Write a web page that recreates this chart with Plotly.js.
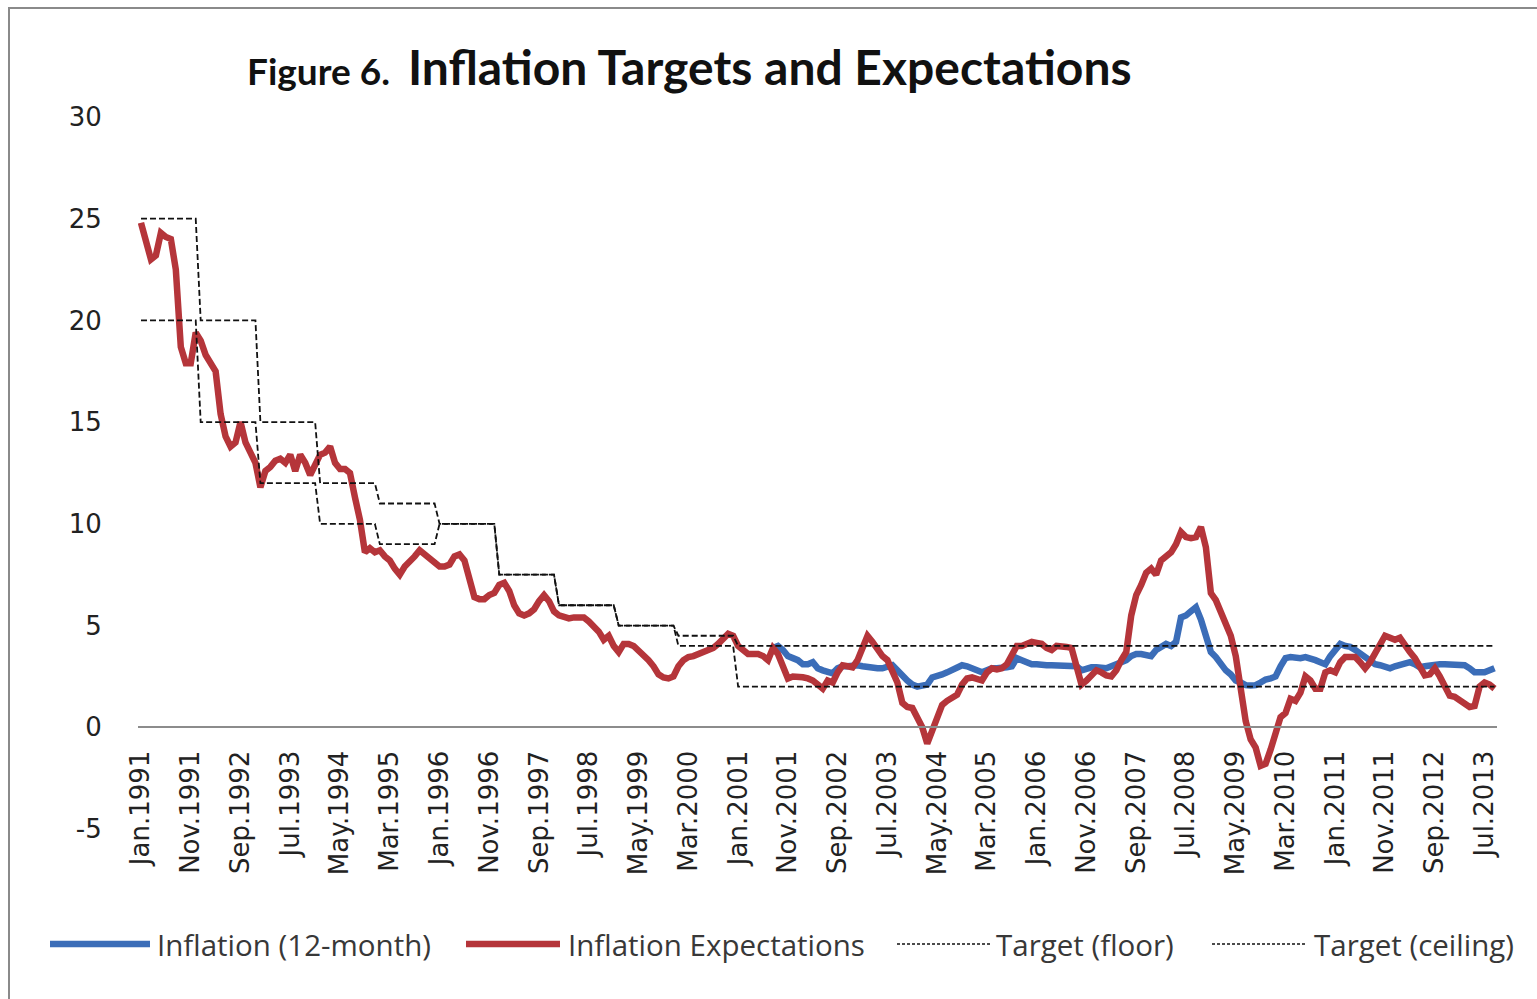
<!DOCTYPE html>
<html>
<head>
<meta charset="utf-8">
<script src="https://cdn.plot.ly/plotly-3.0.1.min.js"></script>
<style>
  html, body { margin: 0; padding: 0; background: #fff; overflow: hidden; }
  #chart { width: 1537px; height: 999px; }
  #frame { position: absolute; left: 8px; top: 7px; width: 1700px; height: 1200px;
           border-left: 2px solid #8a8a8a; border-top: 2px solid #8a8a8a; pointer-events: none; }
</style>
</head>
<body>
<div id="chart"></div>
<div id="frame"></div>
<script>

// Month categories, Jan.1991 .. Sep.2013
var monthNames = ["Jan", "Feb", "Mar", "Apr", "May", "Jun", "Jul", "Aug", "Sep", "Oct", "Nov", "Dec"];
var firstYear = 1991;
var lastYear = 2013;
var lastMonth = "Sep.2013";

var months = [];
for (let y = firstYear; y <= lastYear; y++) {
    for (let k = 0; k < 12; k++) {
        months.push(monthNames[k] + "." + y);
    }
}
months = months.slice(0, months.indexOf(lastMonth) + 1);

// Inflation expectations, monthly from Jan.1991
var expectations = [
    24.8, 24.0, 23.0, 23.2, 24.3, 24.1, 24.0, 22.5, 18.7, 17.9, 17.9, 19.4,
    19.0, 18.3, 17.9, 17.5, 15.4, 14.3, 13.8, 14.0, 15.0, 14.0, 13.5, 13.0,
    11.8, 12.6, 12.8, 13.1, 13.2, 13.0, 13.4, 12.6, 13.4, 13.0, 12.4, 13.0,
    13.4, 13.5, 13.8, 13.0, 12.7, 12.7, 12.5, 11.3, 10.2, 8.6, 8.8, 8.6,
    8.7, 8.4, 8.2, 7.8, 7.5, 7.9, 8.1, 8.4, 8.7, 8.5, 8.2, 8.0,
    7.9, 7.9, 8.0, 8.4, 8.5, 8.2, 7.4, 6.4, 6.3, 6.3, 6.5, 6.6,
    7.0, 7.1, 6.7, 6.0, 5.6, 5.5, 5.6, 5.8, 6.2, 6.5, 6.2, 5.7,
    5.5, 5.4, 5.35, 5.4, 5.4, 5.4, 5.2, 5.0, 4.7, 4.3, 4.5, 4.0,
    3.7, 4.1, 4.1, 4.0, 3.8, 3.6, 3.3, 3.0, 2.6, 2.45, 2.4, 2.5,
    3.0, 3.3, 3.45, 3.5, 3.6, 3.7, 3.8, 3.9, 4.1, 4.4, 4.6, 4.5,
    4.0, 3.8, 3.6, 3.6, 3.6, 3.5, 3.3, 3.9, 3.6, 3.0, 2.4, 2.5,
    2.5, 2.46, 2.4, 2.3, 2.1, 1.9, 2.3, 2.2, 2.7, 3.05, 3.0, 2.95,
    3.3, 3.9, 4.5, 4.2, 3.8, 3.5, 3.3, 2.8, 2.2, 1.2, 1.0, 0.95,
    0.5, 0.0, -0.8, -0.15, 0.6, 1.1, 1.3, 1.5, 1.6, 2.1, 2.4, 2.45,
    2.4, 2.3, 2.7, 2.9, 2.85, 2.9, 3.1, 3.5, 4.0, 4.0, 4.1, 4.2,
    4.15, 4.1, 3.9, 3.8, 4.0, 4.0, 3.95, 3.9, 2.9, 2.1, 2.3, 2.6,
    2.8, 2.7, 2.55, 2.5, 2.8, 3.3, 3.7, 5.5, 6.5, 7.0, 7.6, 7.8,
    7.5, 8.2, 8.4, 8.6, 9.0, 9.6, 9.35, 9.3, 9.35, 9.85, 8.85, 6.6,
    6.25, 5.6, 5.0, 4.5, 3.5, 1.6, 0.3, -0.6, -1.0, -1.9, -1.8, -1.1,
    -0.3, 0.5, 0.7, 1.4, 1.3, 1.7, 2.5, 2.3, 1.9, 1.9, 2.7, 2.8,
    2.7, 3.2, 3.45, 3.45, 3.45, 3.2, 2.9, 3.2, 3.6, 4.0, 4.5, 4.4,
    4.3, 4.4, 4.0, 3.7, 3.4, 3.0, 2.55, 2.6, 2.9, 2.5, 2.0, 1.55,
    1.5, 1.3, 1.2, 1.0, 1.05, 2.0, 2.2, 2.1, 1.9
];

// Inflation (12-month), visible from Aug.2001
var inflationStart = "Aug.2001";
var inflation = [
    3.9, 4.0, 3.8, 3.5, 3.4,
    3.3, 3.1, 3.1, 3.2, 2.9, 2.8, 2.7, 2.65, 2.9, 3.0, 3.0, 3.05,
    3.05, 3.0, 2.95, 2.95, 2.9, 2.9, 3.0, 3.05, 2.8, 2.5, 2.3, 2.1,
    2.0, 2.05, 2.1, 2.45, 2.5, 2.6, 2.7, 2.8, 2.9, 3.05, 3.0, 2.9,
    2.8, 2.7, 2.8, 2.9, 2.9, 2.9, 2.95, 3.0, 3.4, 3.3, 3.2, 3.1,
    3.1, 3.05, 3.05, 3.05, 3.05, 3.05, 3.05, 3.05, 3.0, 2.8, 2.9, 2.95,
    2.95, 2.9, 2.9, 3.0, 3.1, 3.2, 3.3, 3.5, 3.6, 3.6, 3.55, 3.5,
    3.8, 4.0, 4.1, 4.0, 4.2, 5.4, 5.5, 5.7, 5.9, 5.3, 4.6, 3.7,
    3.45, 3.1, 2.8, 2.6, 2.3, 2.2, 2.07, 2.05, 2.07, 2.2, 2.35, 2.4,
    2.5, 3.0, 3.4, 3.45, 3.4, 3.4, 3.45, 3.4, 3.3, 3.2, 3.1, 3.5,
    3.8, 4.1, 4.0, 3.95, 3.8, 3.6, 3.4, 3.2, 3.1, 3.05, 3.0, 2.9,
    3.0, 3.05, 3.1, 3.2, 3.1, 2.95, 3.0, 3.05, 3.1, 3.1, 3.1, 3.1,
    3.1, 3.1, 3.05, 2.9, 2.7, 2.7, 2.7, 2.8, 2.9
];

// Yearly target band
var targetYears = [1991, 1992, 1993, 1994, 1995, 1996, 1997, 1998, 1999, 2000, 2001, 2002,
                   2003, 2004, 2005, 2006, 2007, 2008, 2009, 2010, 2011, 2012, 2013];
var targetFloor = [20, 15, 12, 10, 9, 10, 7.5, 6, 5, 4, 2, 2,
                   2, 2, 2, 2, 2, 2, 2, 2, 2, 2, 2];
var targetCeiling = [25, 20, 15, 12, 11, 10, 7.5, 6, 5, 4.5, 4, 4,
                     4, 4, 4, 4, 4, 4, 4, 4, 4, 4, 4];

// tick labels every 10 months, y labels with a plain hyphen
var tickLabels = months.filter(function (m, i) { return i % 10 === 0; });
var yTicks = [-5, 0, 5, 10, 15, 20, 25, 30];


// each month takes the target of its year
function monthlyTarget(yearly) {
    return months.map(function (m) {
        var yr = parseInt(m.split(".")[1]);
        return yearly[targetYears.indexOf(yr)];
    });
}

var blue = "#3b6db8";
var red = "#b5353a";
var dash = "6px,3px";

var traces = [
    { x: months.slice(months.indexOf(inflationStart)), y: inflation, name: "Inflation (12-month)",
      type: "scatter", mode: "lines", line: { color: blue, width: 6.5 } },
    { x: months, y: expectations, name: "Inflation Expectations",
      type: "scatter", mode: "lines", line: { color: red, width: 6.5 } },
    { x: months, y: monthlyTarget(targetFloor), name: "Target (floor)",
      type: "scatter", mode: "lines", line: { color: "#111", width: 1.8, dash: dash } },
    { x: months, y: monthlyTarget(targetCeiling), name: "Target (ceiling)",
      type: "scatter", mode: "lines", line: { color: "#111", width: 1.8, dash: dash } }
];

// plot area in pixels (for placing the hand made legend)
var plotL = 138, plotR = 1497, plotT = 117, plotB = 829;
function px(x) { return (x - plotL) / (plotR - plotL); }
function py(y) { return (plotB - y) / (plotB - plotT); }

// legend: symbol start/end and text start, in pixels
var legendPos = [
    { x0: 50, x1: 150, tx: 155 },
    { x0: 466, x1: 560, tx: 566 },
    { x0: 897, x1: 990, tx: 994 },
    { x0: 1212, x1: 1305, tx: 1312 }
];
var legendY = 944;

var shapes = [];
var annotations = [];
traces.forEach(function (t, i) {
    var p = legendPos[i];
    var w = t.line.width > 3 ? 6.5 : 1.3;
    shapes.push({
        type: "line", xref: "paper", yref: "paper",
        x0: px(p.x0), x1: px(p.x1), y0: py(legendY), y1: py(legendY),
        line: { color: t.line.color, width: w, dash: t.line.dash ? "3px,2px" : "solid" }
    });
    annotations.push({
        xref: "paper", yref: "paper", x: px(p.tx), y: py(legendY),
        xanchor: "left", yanchor: "middle", showarrow: false,
        text: t.name, font: { family: "Open Sans", size: 29.5, color: "#383838" }
    });
});

var tickFont = "DejaVu Sans, Verdana, sans-serif";

var layout = {
    width: 1537,
    height: 999,
    margin: { l: plotL, r: 1537 - plotR, t: plotT, b: 999 - plotB },
    paper_bgcolor: "#fff",
    plot_bgcolor: "#fff",
    showlegend: false,
    font: { family: tickFont, color: "#222" },

    title: {
        text: "<b>Figure 6.  <span style='font-size:48px'>Inflation Targets and Expectations</span></b>",
        font: { family: "Lato", size: 37, color: "#111" },
        x: 247 / 1537, xref: "container", xanchor: "left",
        y: 1 - 72 / 999, yref: "container", yanchor: "middle"
    },

    xaxis: {
        type: "category",
        categoryorder: "array", categoryarray: months,
        range: [-0.6, months.length - 0.5],
        anchor: "free",
        position: 5 / 35,
        showline: true, linecolor: "#8c8c8c", linewidth: 2,
        showgrid: false, zeroline: false,
        tickmode: "array", tickvals: tickLabels, ticktext: tickLabels,
        tickangle: -90,
        ticks: "outside", ticklen: 12, tickcolor: "rgba(0,0,0,0)",
        tickfont: { family: tickFont, size: 26, color: "#222" }
    },
    yaxis: {
        range: [-5, 30],
        tickmode: "array", tickvals: yTicks, ticktext: yTicks.map(String),
        showgrid: false, zeroline: false, showline: false,
        ticks: "outside", ticklen: 30, tickcolor: "rgba(0,0,0,0)",
        tickfont: { family: tickFont, size: 26, color: "#222" }
    },
    shapes: shapes,
    annotations: annotations
};

Plotly.newPlot("chart", traces, layout, { staticPlot: true });

</script>
</body>
</html>
